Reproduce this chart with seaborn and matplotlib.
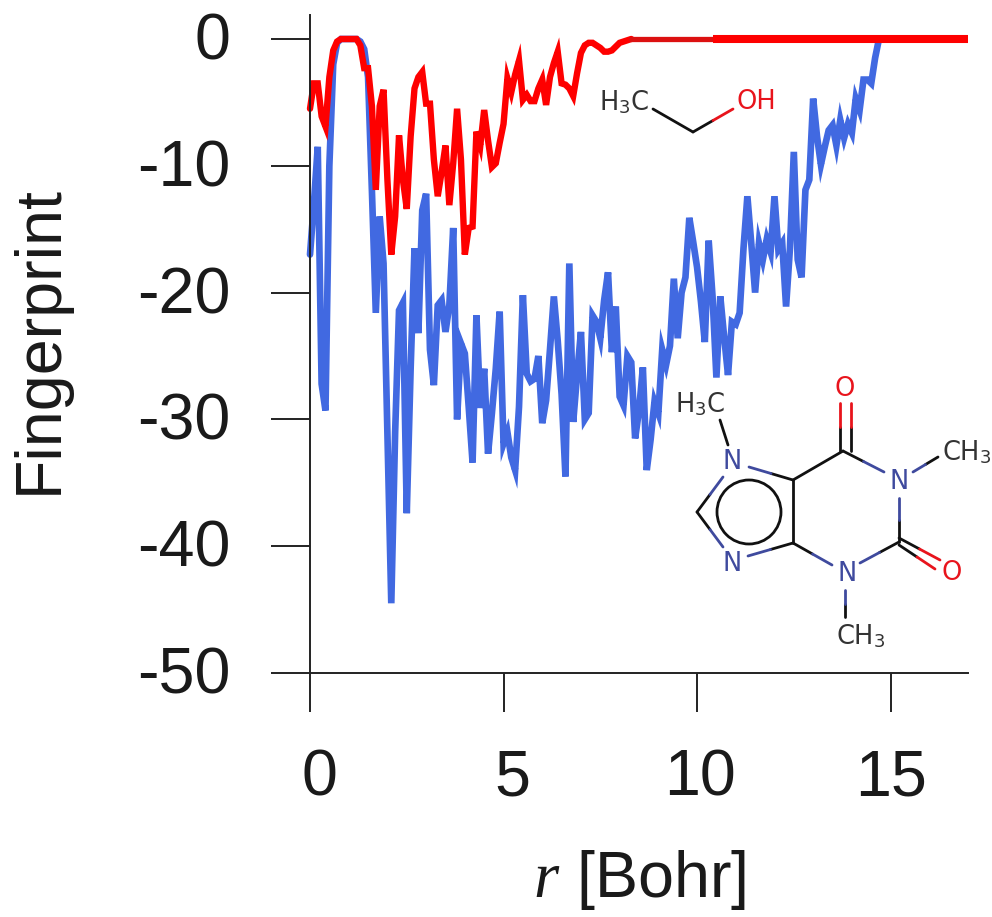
import numpy as np
import pandas as pd
import matplotlib
matplotlib.use("Agg")
import matplotlib.pyplot as plt
from matplotlib.lines import Line2D
from matplotlib.patches import Circle
from matplotlib.transforms import ScaledTranslation
import seaborn as sns

STEP = 0.1
blue_values = [
 -17.0, -13.0, -8.5, -27.2, -29.3, -10.0, -2.0, -0.3, 0, 0,
 0, 0, 0, -0.2, -0.8, -3.0, -12.0, -21.6, -14.0, -17.7,
 -31.0, -44.5, -31.0, -21.4, -20.8, -37.4, -26.0, -16.5, -23.2, -13.5,
 -12.2, -24.5, -27.3, -21.0, -20.6, -23.1, -21.0, -14.9, -30.0, -24.0,
 -24.8, -29.0, -33.4, -21.8, -29.1, -26.0, -32.7, -29.5, -26.0, -21.5,
 -31.9, -31.0, -33.0, -34.0, -29.0, -20.2, -26.4, -27.0, -26.8, -25.0,
 -30.3, -28.5, -24.5, -20.3, -23.8, -28.0, -34.5, -17.7, -30.2, -26.5,
 -23.1, -30.0, -29.5, -21.8, -22.3, -23.6, -20.6, -18.4, -24.7, -21.1,
 -28.2, -28.9, -25.0, -25.5, -31.5, -29.3, -25.9, -34.0, -31.6, -28.6,
 -29.5, -24.5, -25.7, -24.2, -18.9, -23.6, -20.0, -18.8, -14.1, -16.0,
 -18.0, -20.7, -23.9, -15.9, -20.3, -26.7, -20.3, -23.5, -26.5, -22.3,
 -22.5, -21.6, -16.5, -12.4, -16.1, -20.0, -16.1, -17.4, -15.8, -16.8,
 -12.4, -16.6, -16.1, -21.1, -16.5, -8.9, -17.4, -18.8, -11.9, -11.1,
 -4.7, -7.7, -9.9, -8.5, -7.2, -6.8, -8.4, -6.4, -7.8, -6.7,
 -7.4, -4.7, -5.6, -3.2, -3.2, -3.5, -1.5, 0.0,
]
red_values = [
 -5.5, -3.5, -3.5, -6.1, -6.9, -3.0, -0.9, -0.2, 0, 0,
 0, 0, 0, -0.5, -2.3, -2.3, -5.3, -11.9, -5.3, -4.0,
 -11.1, -17.0, -14.0, -7.6, -11.1, -13.4, -7.7, -3.9, -3.0, -2.6,
 -5.1, -5.1, -9.5, -12.4, -10.5, -8.4, -13.1, -9.8, -5.5, -9.5,
 -17.0, -14.9, -14.8, -7.3, -8.4, -5.6, -8.0, -10.1, -9.8, -8.2,
 -6.7, -3.1, -4.2, -2.8, -1.7, -4.8, -4.4, -4.9, -4.9, -3.9,
 -3.2, -5.2, -3.0, -1.9, -1.0, -3.5, -3.6, -3.9, -4.5, -2.7,
 -1.1, -0.5, -0.3, -0.3, -0.5, -0.7, -1.0, -1.0, -0.9, -0.6,
 -0.3, -0.2, -0.1, 0.0,
]
red_flat_r = [8.3, 10.4]
red_flat_v = [0.0, 0.0]
tail_r = [10.4, 17.0]
tail_v = [0.0, 0.0]
x_ticks = [0, 5, 10, 15]
y_ticks = [0, -10, -20, -30, -40, -50]
x_label_shift_px = [9, 9, 3, 0]

BLUE = "#4169e1"
RED = "#fe0000"
DARKRED = "#dc1010"
INK = "#222222"
W, H = 992, 917

sns.set_theme(style="ticks")
plt.rcParams["font.family"] = ["Liberation Sans", "DejaVu Sans"]
plt.rcParams["mathtext.fontset"] = "custom"
plt.rcParams["mathtext.it"] = "Liberation Serif:italic"
plt.rcParams["mathtext.rm"] = "DejaVu Sans"

fig = plt.figure(figsize=(W / 100, H / 100), dpi=100)
ax = fig.add_axes([310 / W, (H - 673) / H, (968 - 310) / W, (673 - 15) / H])

blue_df = pd.DataFrame({"r": np.arange(len(blue_values)) * STEP, "v": blue_values})
red_df = pd.DataFrame({"r": np.arange(len(red_values)) * STEP, "v": red_values})
kw = dict(x="r", y="v", ax=ax, estimator=None, sort=False, clip_on=False)
sns.lineplot(data=blue_df, color=BLUE, lw=4.8, solid_joinstyle="miter", **kw)
sns.lineplot(data=red_df, color=RED, lw=4.6, solid_joinstyle="miter", **kw)
sns.lineplot(data=pd.DataFrame({"r": red_flat_r, "v": red_flat_v}), color=DARKRED, lw=3.8, **kw)
sns.lineplot(data=pd.DataFrame({"r": tail_r, "v": tail_v}), color=RED, lw=5.8, solid_capstyle="butt", **kw)

ax.set_xlim(0, 17)
ax.set_ylim(-50, (673 - 15) / 12.68 - 50)
ax.set_xticks(x_ticks)
ax.set_yticks(y_ticks)
ax.set_xticklabels([str(t) for t in x_ticks])
ax.set_yticklabels([str(t) for t in y_ticks])
ax.tick_params(axis="both", length=28, width=1.4, color=INK, labelsize=46.5, labelcolor="#1a1a1a",
               left=True, bottom=True)
ax.tick_params(axis="y", pad=29)
ax.tick_params(axis="x", pad=26)
for lab, dx in zip(ax.get_xticklabels(), x_label_shift_px):
    lab.set_transform(lab.get_transform() + ScaledTranslation(dx / 100, 0, fig.dpi_scale_trans))
for lab in ax.get_yticklabels():
    lab.set_transform(lab.get_transform() + ScaledTranslation(0, 3 / 100, fig.dpi_scale_trans))
for s in ["top", "right"]:
    ax.spines[s].set_visible(False)
for s in ["left", "bottom"]:
    ax.spines[s].set_color(INK)
    ax.spines[s].set_linewidth(1.4)
ax.set_xlabel("")
ax.set_ylabel("")
fig.text(639 / W, 1 - 880 / H, r"$\mathit{r}$ [Bohr]", fontsize=46.5, ha="center", va="center", color="#1a1a1a")
fig.text(40 / W, 1 - 340 / H, "Fingerprint", fontsize=46.5, rotation=90, ha="center", va="center", color="#1a1a1a")


# Structural formula decorations, placed in figure pixels
def bond(x0, y0, x1, y1, color="#111111", lw=2.0):
    fig.add_artist(Line2D([x0 / W, x1 / W], [1 - y0 / H, 1 - y1 / H], color=color, lw=lw))


def hetero(x0, y0, x1, y1, color):
    """Bond whose first half has the heteroatom colour and second half is black."""
    xm, ym = (x0 + x1) / 2, (y0 + y1) / 2
    bond(xm, ym, x1, y1)
    bond(x0, y0, xm, ym, color)


def atom(x, y, s, color="#333333", size=18.5):
    fig.text(x / W, 1 - y / H, s, color=color, fontsize=size, ha="center", va="center",
             family=["DejaVu Sans"])


NAVY = "#3f4a9e"
ORED = "#e8141c"
atom(624, 103, r"H$_3$C")
bond(653, 109, 693, 132)
hetero(733, 109, 693, 132, ORED)
atom(756, 102, "OH", ORED)

atom(700, 405, r"H$_3$C")
bond(720, 420, 728, 445)
atom(732, 462, "N", NAVY)
atom(732, 564, "N", NAVY)
atom(899, 482, "N", NAVY)
atom(847, 574, "N", NAVY)
atom(845, 389, "O", ORED)
atom(952, 573, "O", ORED)
atom(967, 453, r"CH$_3$")
atom(861, 637, r"CH$_3$")
hetero(749, 467, 793, 480, NAVY)
hetero(723, 477, 697, 512, NAVY)
hetero(723, 547, 697, 512, NAVY)
hetero(748, 556, 793, 543, NAVY)
bond(793, 480, 793, 543)
bond(793, 480, 843, 451)
hetero(884, 472, 843, 451, NAVY)
hetero(913, 472, 938, 457, NAVY)
hetero(899, 498, 899, 542, NAVY)
hetero(860, 563, 899, 542, NAVY)
hetero(832, 565, 793, 543, NAVY)
hetero(845, 590, 845, 617, NAVY)
hetero(840, 403, 840, 451, ORED)
hetero(851, 403, 851, 451, ORED)
hetero(940, 560, 899, 538, ORED)
hetero(935, 569, 899, 545, ORED)
fig.add_artist(Circle((749, H - 512), 32, transform=None, fill=False, ec="#111111", lw=2.0))

fig.savefig("out.png", dpi=100, facecolor="white")
